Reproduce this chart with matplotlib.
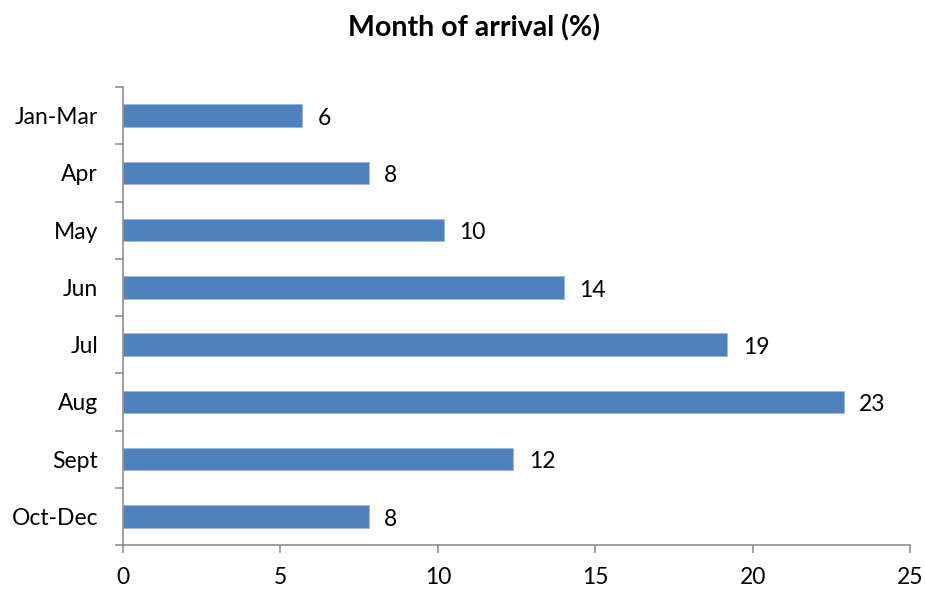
import matplotlib
matplotlib.use("Agg")
import matplotlib.pyplot as plt
import numpy as np

plt.rcParams['font.family'] = ['Lato', 'DejaVu Sans']

# Share of arrivals by month (%)
months = ["Jan-Mar", "Apr", "May", "Jun", "Jul", "Aug", "Sept", "Oct-Dec"]
shares = [5.7, 7.8, 10.2, 14.0, 19.2, 22.9, 12.4, 7.8]
x_ticks = [0, 5, 10, 15, 20, 25]

bar_color = "#4F81BD"
axis_color = "#868686"
fs = 16.5

fig = plt.figure(figsize=(9.25, 5.91), dpi=100)
ax = fig.add_axes([0.133, 0.0778, 0.8508, 0.775])

pos = np.arange(len(months))
bars = ax.barh(pos, shares, height=0.39, color=bar_color,
               edgecolor="#9DB9DE", linewidth=0.6, zorder=2)

for p, v in zip(pos, shares):
    ax.annotate(f"{v:.0f}", xy=(v, p), xytext=(11, -2), textcoords="offset points",
                ha="left", va="center", fontsize=fs, color="black")

ax.set_xlim(0, 25)
ax.set_ylim(len(months) - 0.5, -0.5)
ax.set_xticks(x_ticks)
ax.set_xticklabels([str(t) for t in x_ticks])

# category boundaries carry the tick marks, labels sit at bar centres
ax.set_yticks(np.arange(len(months) + 1) - 0.5)
ax.set_yticklabels([])
ax.set_yticks(pos, minor=True)
ax.set_yticklabels(months, minor=True)
ax.tick_params(axis="y", which="major", length=6, width=1.1, color=axis_color, direction="out")
ax.tick_params(axis="y", which="minor", length=0, pad=18, labelsize=fs)
ax.tick_params(axis="x", length=6, width=1.1, color=axis_color, direction="out",
               pad=10, labelsize=fs)

for s in ("top", "right"):
    ax.spines[s].set_visible(False)
for s in ("left", "bottom"):
    ax.spines[s].set_color(axis_color)
    ax.spines[s].set_linewidth(1.1)

fig.text(0.512, 0.953, "Month of arrival (%)", ha="center", va="center",
         fontsize=20.5, fontweight="bold")

fig.savefig("out.png", dpi=100)
